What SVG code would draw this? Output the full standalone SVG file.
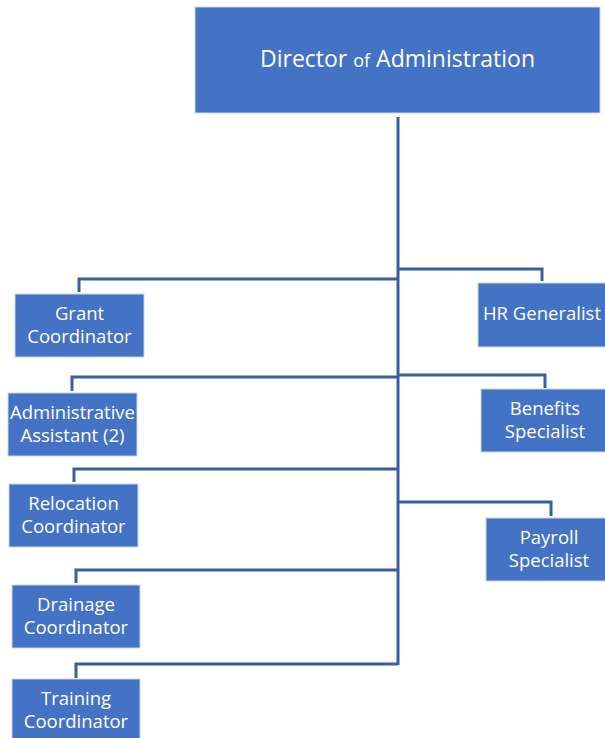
<svg xmlns="http://www.w3.org/2000/svg" width="605" height="738" viewBox="0 0 605 738">
<style>
.box{fill:#4472C4;stroke:#C9D6EE;stroke-width:1}
.t{fill:#fff;font-family:"Open Sans","Liberation Sans",sans-serif;font-size:18.5px;text-anchor:middle}
.big{font-size:23px}
.sm{font-size:18px}
.c{fill:none;stroke:#3B5EA0;stroke-width:3}
</style>
<rect width="605" height="738" fill="#fff"/>
<g id="connectors">
<path class="c" d="M398 117V665"/>
<path class="c" d="M398 279H79V292"/>
<path class="c" d="M398 377H72V391"/>
<path class="c" d="M398 469H74V482"/>
<path class="c" d="M398 570H76V583"/>
<path class="c" d="M398 664H76V678"/>
<path class="c" d="M398 269H542V281"/>
<path class="c" d="M398 375H545V388"/>
<path class="c" d="M398 502H551V516"/>
</g>
<g id="director">
<rect class="box" x="195" y="7" width="405" height="106"/>
<text class="t big" x="397.5" y="67">Director <tspan class="sm">of</tspan> Administration</text>
</g>
<g id="grant">
<rect class="box" x="15" y="294" width="129" height="63"/>
<text class="t" x="79.5" y="320">Grant</text>
<text class="t" x="79.5" y="343">Coordinator</text>
</g>
<g id="admin">
<rect class="box" x="8" y="393" width="129" height="63"/>
<text class="t" x="72.5" y="419">Administrative</text>
<text class="t" x="72.5" y="442">Assistant (2)</text>
</g>
<g id="relocation">
<rect class="box" x="9" y="484" width="129" height="63"/>
<text class="t" x="73.5" y="510">Relocation</text>
<text class="t" x="73.5" y="533">Coordinator</text>
</g>
<g id="drainage">
<rect class="box" x="12" y="585" width="128" height="63"/>
<text class="t" x="76" y="611">Drainage</text>
<text class="t" x="76" y="634">Coordinator</text>
</g>
<g id="training">
<rect class="box" x="12" y="679" width="128" height="63"/>
<text class="t" x="76" y="705">Training</text>
<text class="t" x="76" y="728">Coordinator</text>
</g>
<g id="hr">
<rect class="box" x="478" y="283" width="130" height="64"/>
<text class="t" x="542" y="320">HR Generalist</text>
</g>
<g id="benefits">
<rect class="box" x="481" y="389" width="127" height="63"/>
<text class="t" x="545" y="415">Benefits</text>
<text class="t" x="545" y="438">Specialist</text>
</g>
<g id="payroll">
<rect class="box" x="486" y="518" width="122" height="63"/>
<text class="t" x="549" y="544">Payroll</text>
<text class="t" x="549" y="567">Specialist</text>
</g>
</svg>
